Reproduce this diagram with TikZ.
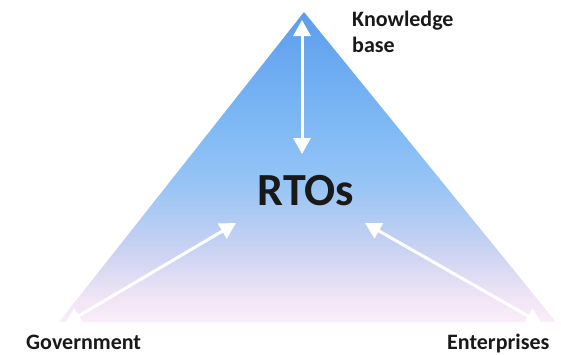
\documentclass[tikz,border=0pt]{standalone}
\usepackage{fontspec}
\setmainfont{Carlito}
\usepackage{tikz}
\usetikzlibrary{arrows.meta}
\definecolor{topblue}{RGB}{92,157,236}
\definecolor{skyblue}{RGB}{128,186,245}
\definecolor{midblue}{RGB}{152,196,245}
\definecolor{lilac}{RGB}{200,210,242}
\definecolor{paleink}{RGB}{240,228,246}
\definecolor{pinkbot}{RGB}{250,238,250}
\pgfdeclareverticalshading{rtoshade}{100bp}{color(0bp)=(pinkbot); color(25bp)=(pinkbot); color(29bp)=(paleink); color(37bp)=(lilac); color(47bp)=(midblue); color(56bp)=(skyblue); color(75bp)=(topblue); color(100bp)=(topblue)}
\tikzset{
	label text/.style={font=\bfseries\fontsize{22}{26}\selectfont, text=black!90, inner sep=0pt},
	link/.style={{Triangle[length=16pt, width=17pt]}-{Triangle[length=16pt, width=17pt]}, white, line width=3pt}
}

\begin{document}
\begin{tikzpicture}[x=1pt, y=-1pt]
		\useasboundingbox (0,0) rectangle (561,354);
		
		% Corners of the triangle
		\coordinate (apex)  at (304,12);
		\coordinate (left)  at (59,322);
		\coordinate (right) at (556,322);
		\shade[shading=rtoshade] (apex) -- (left) -- (right) -- cycle;
		
		% Labels
		\node[label text, anchor=base west, align=left] (KB) at (352,52) {Knowledge\\base};
		\node[font=\bfseries\fontsize{46}{50}\selectfont, text=black!90, inner sep=0pt, anchor=base] (RTO) at (306,205) {RTOs};
		\node[label text, anchor=base west] (Gov) at (26,349) {Government};
		\node[label text, anchor=base west] (Ent) at (447,349) {Enterprises};
		
		% Arrow ends
		\coordinate (kbtip)  at (302,20);
		\coordinate (rtotop) at (302,154);
		\coordinate (rtoL)   at (236,223);
		\coordinate (govtip) at (65,324);
		\coordinate (rtoR)   at (365,223);
		\coordinate (enttip) at (542,324);
		
		% Arrows
		\draw[link] (kbtip) -- (rtotop);   % knowledge base <-> RTOs
		\draw[link] (govtip) -- (rtoL);    % government <-> RTOs
		\draw[link] (rtoR) -- (enttip);    % RTOs <-> enterprises
		
	\end{tikzpicture}
\end{document}
